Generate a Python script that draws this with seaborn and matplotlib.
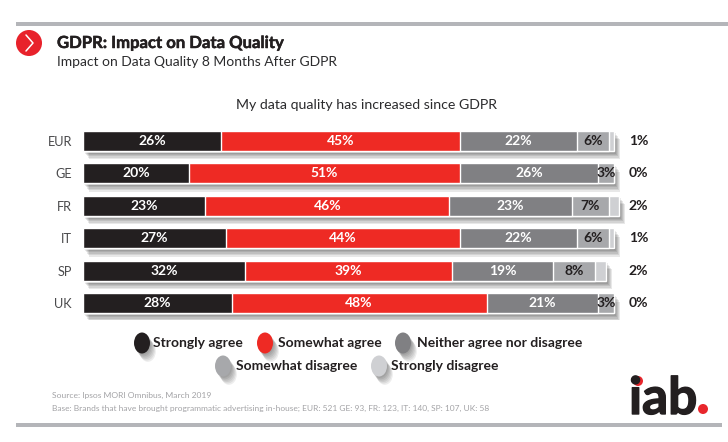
import matplotlib
matplotlib.use("Agg")
import matplotlib.pyplot as plt
import matplotlib.patheffects as pe
from matplotlib.patches import Circle, Ellipse, Rectangle
import numpy as np
import seaborn as sns

countries = ["EUR", "GE", "FR", "IT", "SP", "UK"]
# bar lengths as drawn in the picture (SP's black bar is shorter than its 32% label)
strongly_agree = [26, 20, 23, 27, 30.5, 28]
somewhat_agree = [45, 51, 46, 44, 39, 48]
neither = [22, 26, 23, 22, 19, 21]
somewhat_disagree = [6, 3, 7, 6, 8, 3]
strongly_disagree = [1, 0, 2, 1, 2, 0]
strongly_agree_labels = [26, 20, 23, 27, 32, 28]

series_names = ["Strongly agree", "Somewhat agree", "Neither agree nor disagree",
                "Somewhat disagree", "Strongly disagree"]
colors = ["#231f20", "#ee2a24", "#808083", "#a7a8ab", "#cfd0d3"]
text_colors = ["white", "white", "white", "#231f20"]

sns.set_theme(style="white")
plt.rcParams["font.family"] = ["Lato", "DejaVu Sans"]

W, H = 728, 442
fig = plt.figure(figsize=(W / 100, H / 100), dpi=100, facecolor="white")


def soft_shadow(strength=0.09):
    effects = [pe.SimplePatchShadow(offset=(o * 0.7, -o), shadow_rgbFace="black", alpha=strength)
               for o in (1, 2, 3, 4, 5, 6)]
    return effects + [pe.Normal()]


def heavier(width=0.35):
    return [pe.withStroke(linewidth=width, foreground="#231f20")]


# chart axes, placed on pixel positions of the reference
ax = fig.add_axes([83 / W, 1 - 319.5 / H, 637.2 / W, 195 / H])
values = np.array([strongly_agree, somewhat_agree, neither, somewhat_disagree, strongly_disagree])
labels = np.array([strongly_agree_labels, somewhat_agree, neither, somewhat_disagree, strongly_disagree])
totals = values.cumsum(axis=0)

# longest bar first, shorter ones on top of it
for i in range(4, -1, -1):
    sns.barplot(x=totals[i], y=countries, color=colors[i], saturation=1, width=0.62,
                orient="h", ax=ax)
for bar in ax.containers[0]:
    bar.set_path_effects(soft_shadow())

ax.set_xlim(0, 120)
ax.set_ylim(5.5, -0.5)
ax.set_xlabel("")
ax.set_ylabel("")
ax.set_xticks([])
ax.tick_params(axis="y", length=0, pad=8, labelsize=9.2, labelcolor="#4a4a4c")
sns.despine(ax=ax, left=True, bottom=True)

for i in range(4):
    lefts = totals[i] - values[i]
    for row, val in enumerate(values[i]):
        ax.text(lefts[row] + val / 2, row, f"{labels[i][row]}%", ha="center", va="center",
                color=text_colors[i], fontsize=10, fontweight="bold")
for row, val in enumerate(strongly_disagree):
    ax.text(104.6, row, f"{val}%", ha="center", va="center", color="#231f20",
            fontsize=10, fontweight="bold")

# overlay in pixel coordinates for header, legend and footer
deco = fig.add_axes([0, 0, 1, 1], facecolor="none")
deco.set_xlim(0, W)
deco.set_ylim(H, 0)
deco.axis("off")

deco.add_patch(Rectangle((16, 22), 712, 4, color="#b4b5b9", lw=0))
deco.add_patch(Rectangle((16, 423), 706, 4, color="#b4b5b9", lw=0))

deco.add_patch(Circle((29, 43), 13, color="#e8222b", lw=0))
deco.plot([26, 33, 26], [35, 43, 51], color="white", lw=1.1)

deco.text(57, 43, "GDPR: Impact on Data Quality", fontsize=12, fontweight="bold",
          color="#231f20", va="center", path_effects=heavier())
deco.text(57, 62, "Impact on Data Quality 8 Months After GDPR", fontsize=10,
          color="#2b2b2d", va="center")
deco.text(366, 105, "My data quality has increased since GDPR", fontsize=10.2,
          color="#2b2b2d", ha="center", va="center")

marker_x = [142, 265, 403, 223, 379]
label_x = [153, 278, 417, 236, 391]
row_y = [343, 343, 343, 366, 366]
for name, color, mx, lx, y in zip(series_names, colors, marker_x, label_x, row_y):
    deco.add_patch(Ellipse((mx, y), 16, 21, color=color, lw=0, path_effects=soft_shadow(0.07)))
    deco.text(lx, y, name, fontsize=10, fontweight="bold", color="#231f20", va="center")

deco.text(52, 395, "Source: Ipsos MORI Omnibus, March 2019", fontsize=6.1,
          color="#a3a3a6", va="center")
deco.text(52, 408, "Base: Brands that have brought programmatic advertising in-house; "
          "EUR: 521 GE: 93, FR: 123, IT: 140, SP: 107, UK: 58", fontsize=6.05,
          color="#a3a3a6", va="center")

deco.text(629, 414, "iab", fontsize=37, fontweight="bold", color="#231f20",
          va="baseline", ha="left", path_effects=heavier(1.0))
deco.add_patch(Circle((638, 381), 5, color="#e8262c", lw=0))
deco.add_patch(Circle((703, 409), 5, color="#e8262c", lw=0))

fig.savefig("out.png", dpi=100)
